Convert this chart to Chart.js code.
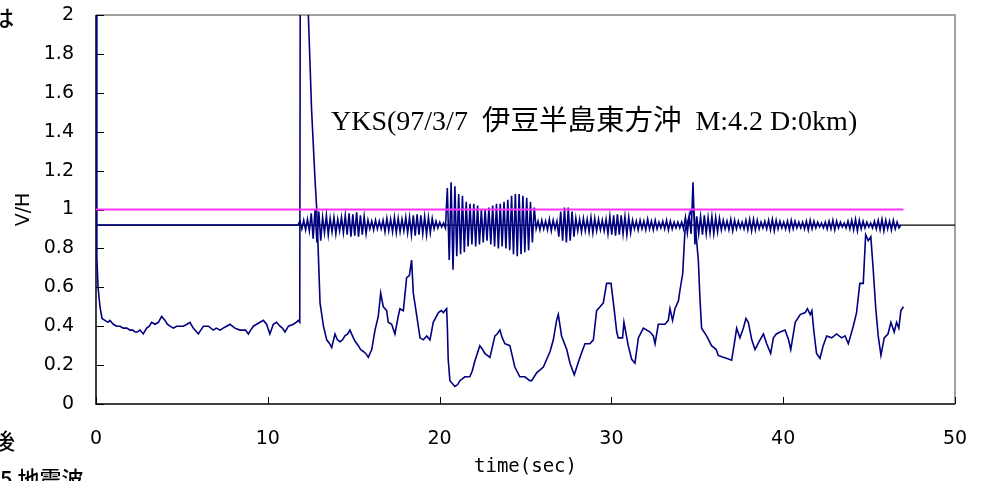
<!DOCTYPE html>
<html>
<head>
<meta charset="utf-8">
<script src="https://cdn.jsdelivr.net/npm/chart.js@4.4.1/dist/chart.umd.min.js"></script>
<style>
  html, body { margin:0; padding:0; background:#fff; width:983px; height:481px; overflow:hidden; }
  #wrap { position:relative; width:983px; height:481px; overflow:hidden; }
  canvas { position:absolute; left:0; top:0; }
  .side { position:absolute; font-family:"Noto Sans CJK JP", sans-serif; font-size:22px; font-weight:500; color:#000; white-space:pre; line-height:1; }
  #title { position:absolute; left:331px; top:103px; white-space:pre; line-height:30px; font-family:"Liberation Serif", serif; font-size:28px; color:#000; }
  #title .jp { font-family:"Noto Sans CJK JP", sans-serif; font-size:28.5px; }
</style>
</head>
<body>
<div id="wrap">
  <canvas id="c" width="983" height="481"></canvas>
  <div class="side" style="left:-8px; top:5px;">は</div>
  <div class="side" style="left:-7px; top:428px;">後</div>
  <div class="side" style="left:0px; top:466px;">5 地震波</div>
  <div id="title"><span>YKS(97/3/7  </span><span class="jp">伊豆半島東方沖</span><span>  M:4.2 D:0km)</span></div>
</div>
<script>
// ---------------- data ----------------
const xTickValues = [0, 10, 20, 30, 40, 50];
const yTickStep = 0.2;
const xTitle = "time(sec)";
const yTitle = "V/H";

// V/H spectral ratio curve (time in sec, value)
const vhTime = [
  0.00,0.05,0.12,0.23,0.35,0.52,0.70,0.81,1.01,1.20,1.40,1.59,1.80,1.98,2.15,2.27,2.40,2.56,2.75,2.95,
  3.10,3.24,3.43,3.63,3.82,4.02,4.15,4.31,4.50,4.69,4.90,5.08,5.30,5.47,5.66,5.96,6.10,6.25,6.54,6.83,
  7.00,7.22,7.40,7.60,7.80,8.09,8.38,8.48,8.70,8.87,9.00,9.16,9.35,9.55,9.74,9.93,10.12,10.32,10.51,10.71,
  10.85,11.00,11.20,11.49,11.65,11.78,11.86,11.90,12.00,12.20,12.36,12.55,12.75,12.85,12.95,13.04,13.24,13.43,13.60,13.72,
  13.91,14.05,14.20,14.35,14.49,14.65,14.78,14.98,15.10,15.27,15.40,15.56,15.70,15.85,16.05,16.24,16.35,16.43,16.57,16.72,
  16.92,17.01,17.21,17.40,17.59,17.69,17.89,18.08,18.24,18.37,18.47,18.66,18.86,19.05,19.25,19.44,19.63,19.93,20.10,20.22,
  20.41,20.45,20.50,20.60,20.89,21.05,21.18,21.47,21.76,21.90,22.05,22.34,22.50,22.63,22.93,23.22,23.35,23.51,23.65,23.80,
  24.09,24.38,24.67,24.96,25.25,25.36,25.65,26.04,26.43,26.62,26.81,26.91,27.10,27.40,27.59,27.84,28.17,28.46,28.75,28.95,
  29.14,29.34,29.53,29.72,29.98,30.17,30.31,30.40,30.65,30.73,30.98,31.18,31.37,31.57,31.86,32.25,32.44,32.54,32.73,33.12,
  33.31,33.41,33.56,33.70,33.90,34.00,34.15,34.28,34.48,34.67,34.80,34.94,35.06,35.15,35.25,35.54,35.83,36.10,36.22,36.51,
  36.69,37.00,37.19,37.29,37.48,37.68,37.83,37.97,38.17,38.36,38.65,38.85,39.04,39.27,39.43,39.60,39.82,40.11,40.31,40.44,
  40.70,40.99,41.28,41.41,41.57,41.67,41.79,41.94,42.14,42.33,42.53,42.82,43.11,43.40,43.60,43.79,44.08,44.27,44.46,44.66,
  44.80,44.95,45.10,45.24,45.38,45.53,45.69,45.88,46.10,46.27,46.46,46.60,46.73,46.85,47.00
];
const vhValue = [
  2.20,0.75,0.60,0.50,0.44,0.43,0.42,0.43,0.41,0.40,0.40,0.39,0.39,0.38,0.38,0.37,0.37,0.38,0.36,0.39,
  0.40,0.42,0.41,0.42,0.45,0.43,0.41,0.40,0.39,0.40,0.40,0.40,0.41,0.42,0.39,0.36,0.38,0.40,0.40,0.38,
  0.39,0.38,0.39,0.40,0.41,0.39,0.38,0.38,0.38,0.36,0.38,0.40,0.41,0.42,0.43,0.41,0.36,0.41,0.42,0.40,
  0.39,0.37,0.40,0.41,0.42,0.43,0.42,2.90,2.85,2.35,2.00,1.51,1.15,1.00,0.75,0.52,0.40,0.33,0.31,0.29,
  0.36,0.33,0.32,0.33,0.35,0.36,0.38,0.34,0.32,0.30,0.28,0.27,0.26,0.24,0.28,0.38,0.42,0.45,0.57,0.50,
  0.48,0.42,0.41,0.36,0.45,0.49,0.48,0.65,0.66,0.74,0.57,0.46,0.34,0.33,0.35,0.33,0.42,0.47,0.48,0.47,
  0.49,0.40,0.23,0.12,0.09,0.10,0.12,0.14,0.14,0.17,0.22,0.30,0.28,0.26,0.24,0.35,0.36,0.38,0.34,0.31,
  0.30,0.19,0.14,0.14,0.12,0.12,0.16,0.19,0.27,0.33,0.43,0.46,0.35,0.28,0.21,0.15,0.24,0.31,0.31,0.33,
  0.48,0.50,0.52,0.62,0.62,0.48,0.37,0.34,0.34,0.42,0.30,0.23,0.21,0.34,0.39,0.37,0.35,0.31,0.41,0.41,
  0.43,0.49,0.43,0.49,0.53,0.59,0.67,0.89,0.95,1.00,0.99,0.86,0.74,0.55,0.39,0.35,0.30,0.28,0.25,0.24,
  0.235,0.225,0.33,0.39,0.34,0.39,0.44,0.42,0.33,0.28,0.33,0.36,0.31,0.26,0.34,0.36,0.37,0.38,0.33,0.28,
  0.42,0.46,0.47,0.49,0.46,0.48,0.37,0.26,0.235,0.30,0.35,0.34,0.36,0.34,0.35,0.31,0.40,0.47,0.62,0.62,
  0.87,0.84,0.86,0.69,0.50,0.35,0.25,0.34,0.36,0.42,0.37,0.42,0.39,0.48,0.50
];

// Seismic waveform trace (plotted offset around its zero line)
const waveQuietLevel = 0.92;   // level of the trace before the arrival
const waveStart = 11.87;       // first sample time (sec)
const waveStep = 0.11;         // sample interval (sec)
const waveValues = [
  0.94,0.90,0.945,0.895,0.95,0.89,
  0.98,0.85,1.00,0.83,0.99,0.84,
  0.96,0.88,0.97,0.87,0.955,0.885,0.96,0.875,0.95,0.89,0.96,0.88,
  0.97,0.87,0.98,0.86,0.975,0.865,0.985,0.86,0.97,0.87,0.965,0.875,
  0.945,0.90,0.94,0.895,0.945,0.90,0.94,0.90,0.945,
  0.885,0.955,0.89,0.95,0.885,0.96,0.88,0.955,0.885,0.95,0.89,0.96,0.88,0.96,
  0.87,0.97,0.865,0.975,0.87,0.97,0.875,0.965,0.87,0.96,0.88,0.955,
  0.90,0.94,0.905,0.935,0.91,0.93,0.905,
  1.11,0.74,1.14,0.69,1.12,
  0.76,1.08,0.77,1.07,0.78,
  1.04,0.81,1.03,0.82,1.03,0.81,1.02,0.82,
  1.00,0.83,1.00,0.84,1.01,
  0.82,1.02,0.81,1.03,0.80,1.03,0.81,1.04,0.80,1.05,0.79,
  1.07,0.77,1.08,0.76,1.08,0.77,1.07,0.78,1.06,0.79,
  1.04,0.83,1.01,
  0.90,0.94,0.895,0.945,0.90,0.94,0.895,0.95,0.89,0.945,0.90,0.94,
  0.86,0.99,0.84,1.01,0.83,1.01,0.84,0.99,0.86,
  0.955,0.89,0.95,0.885,0.955,0.89,0.95,0.885,0.96,0.88,0.955,0.89,0.95,0.895,0.945,0.89,0.95,
  0.875,0.965,0.87,0.97,0.865,0.975,0.87,0.97,0.875,0.965,0.87,0.96,0.88,
  0.945,0.90,0.94,0.895,0.945,0.90,0.94,0.895,0.95,0.90,0.94,0.895,0.945,0.90,0.935,0.905,0.94,0.90,0.945,0.895,0.94,0.90,0.935,
  0.905,0.935,0.905,0.935,0.90,
  0.96,0.88,0.965,0.875,
  1.14,0.82,
  0.965,0.875,0.965,0.87,0.97,0.875,0.96,0.88,0.965,0.875,0.96,0.885,0.955,
  0.895,0.945,0.90,0.94,0.895,0.95,0.89,0.945,0.90,0.94,
  0.905,0.935,0.90,0.945,0.895,0.95,0.89,0.95,0.895,0.945,
  0.90,0.935,0.905,0.94,0.90,0.945,0.895,0.95,0.89,0.945,
  0.90,0.94,0.905,0.935,0.90,0.94,0.895,0.945,0.90,0.94,
  0.905,0.935,0.905,0.935,0.90,0.94,0.895,0.945,0.90,0.94,
  0.905,0.935,0.91,0.93,0.905,0.935,0.90,0.94,0.90,0.945,
  0.895,0.94,0.905,0.935,0.91,0.93,0.905,0.94,0.90,0.945,
  0.895,0.95,0.89,0.945,0.90,0.94,0.905,0.935,0.91,0.93,
  0.905,0.94,0.90,0.945,0.895,0.95,0.89,0.945,0.90,0.94,
  0.895,0.945,0.90,0.935,0.905,0.92
];

// reference lines
const waveZeroLevel = 0.92;            // zero line of the waveform, full width
const waveZeroRange = [0, 50];
const ratioOneLevel = 1.0;             // V/H = 1
const ratioOneRange = [0, 47.0];

// ---------------- build ----------------
const vhPoints = vhTime.map((t, i) => ({ x: t, y: vhValue[i] }));
const wavePoints = [{ x: 0, y: waveQuietLevel }, { x: waveStart - waveStep, y: waveQuietLevel }]
  .concat(waveValues.map((v, i) => ({ x: waveStart + i * waveStep, y: v })));
const zeroLine = waveZeroRange.map(x => ({ x, y: waveZeroLevel }));
const oneLine = ratioOneRange.map(x => ({ x, y: ratioOneLevel }));

function noPad(s) { s.paddingTop = 0; s.paddingBottom = 0; s.paddingLeft = 0; s.paddingRight = 0; }

const frame = {
  id: 'frame',
  beforeDatasetsDraw(chart) {
    const { ctx, chartArea: a, scales: { x, y } } = chart;
    ctx.save();
    ctx.strokeStyle = '#a0a0a0';
    ctx.lineWidth = 2;
    ctx.beginPath();
    ctx.moveTo(a.left, a.top); ctx.lineTo(a.right, a.top); ctx.lineTo(a.right, a.bottom);
    ctx.stroke();
    ctx.strokeStyle = '#000';
    ctx.lineWidth = 1.5;
    ctx.beginPath();
    ctx.moveTo(a.left, a.top); ctx.lineTo(a.left, a.bottom); ctx.lineTo(a.right, a.bottom);
    ctx.stroke();
    ctx.lineWidth = 1;
    ctx.beginPath();
    y.ticks.forEach(t => {
      const py = Math.round(y.getPixelForValue(t.value)) + 0.5;
      ctx.moveTo(a.left, py); ctx.lineTo(a.left + 8, py);
    });
    x.ticks.forEach(t => {
      const px = Math.round(x.getPixelForValue(t.value)) + 0.5;
      ctx.moveTo(px, a.bottom); ctx.lineTo(px, a.bottom - 7);
    });
    ctx.stroke();
    ctx.restore();
  }
};

new Chart(document.getElementById('c'), {
  type: 'line',
  data: {
    datasets: [
      { label: 'V=H', data: oneLine, borderColor: '#ff33ff', borderWidth: 1.8, pointRadius: 0, order: 0 },
      { label: 'wave', data: wavePoints, borderColor: '#000080', borderWidth: 1.6, pointRadius: 0, order: 1 },
      { label: 'zero', data: zeroLine, borderColor: '#000000', borderWidth: 1.2, pointRadius: 0, order: 2 },
      { label: 'V/H', data: vhPoints, borderColor: '#000080', borderWidth: 1.6, pointRadius: 0, order: 3 }
    ]
  },
  options: {
    responsive: false,
    animation: false,
    devicePixelRatio: 1,
    parsing: false,
    layout: { padding: { top: 15, right: 28, left: 0, bottom: 0 } },
    plugins: { legend: { display: false }, tooltip: { enabled: false } },
    elements: { line: { tension: 0 } },
    scales: {
      x: {
        type: 'linear', min: 0, max: 50,
        afterFit(s) { s.height = 77; noPad(s); },
        afterBuildTicks(s) { s.ticks = xTickValues.map(v => ({ value: v })); },
        grid: { display: false, drawTicks: false },
        border: { display: false },
        ticks: { color: '#000', padding: 24, maxRotation: 0, font: { family: 'DejaVu Sans', size: 19 } },
        title: { display: true, text: xTitle, color: '#000', padding: { top: 0, bottom: 3 }, font: { family: 'DejaVu Sans Mono', size: 19 } }
      },
      y: {
        type: 'linear', min: 0, max: 2,
        afterFit(s) { s.width = 96; noPad(s); },
        grid: { display: false, drawTicks: false },
        border: { display: false },
        ticks: { stepSize: yTickStep, color: '#000', padding: 22, font: { family: 'DejaVu Sans', size: 19 },
                 callback: v => String(+v.toFixed(1)) },
        title: { display: true, text: yTitle, color: '#000', padding: { top: 13, bottom: 0 }, font: { family: 'DejaVu Sans', size: 19 } }
      }
    }
  },
  plugins: [frame]
});
</script>
</body>
</html>
